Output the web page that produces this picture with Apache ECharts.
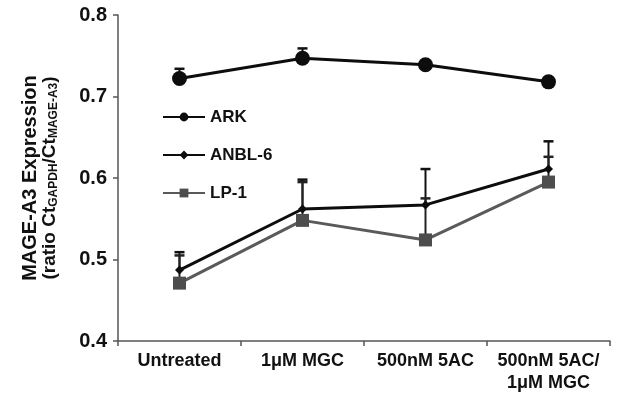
<!DOCTYPE html>
<html>
<head>
<meta charset="utf-8">
<script src="https://cdn.jsdelivr.net/npm/echarts@6/dist/echarts.min.js"></script>
<style>
  html, body { margin: 0; padding: 0; background: #fff; }
  #chart { width: 617px; height: 397px; }
</style>
</head>
<body>
<div id="chart"></div>
<script>
const categories = ['Untreated', '1\u03bcM MGC', '500nM 5AC', '500nM 5AC/\n1\u03bcM MGC'];
const yTicks = [0.4, 0.5, 0.6, 0.7, 0.8];

const arkValues   = [0.722, 0.747, 0.739, 0.718];
const arkErrors   = [0.012, 0.012, 0, 0];
const anblValues  = [0.487, 0.562, 0.567, 0.611];
const anblErrors  = [0.022, 0.036, 0.044, 0.034];
const lp1Values   = [0.471, 0.548, 0.524, 0.595];
const lp1Errors   = [0.034, 0.047, 0.051, 0.031];

const FONT = '"Liberation Sans", Arial, Helvetica, sans-serif';

function errData(values, errors) {
  return values.map((v, i) => [i, v, errors[i]]);
}

function errSeries(name, values, errors, color) {
  return {
    type: 'custom',
    name: name + ' err',
    z: 1,
    silent: true,
    data: errData(values, errors),
    encode: { x: 0, y: 1 },
    renderItem: function (params, api) {
      const x = api.value(0), v = api.value(1), e = api.value(2);
      if (!e) return null;
      const p0 = api.coord([x, v]);
      const p1 = api.coord([x, v + e]);
      const hw = 5;
      return {
        type: 'group',
        children: [
          { type: 'line', shape: { x1: p0[0], y1: p0[1], x2: p1[0], y2: p1[1] },
            style: { stroke: color, lineWidth: 2 } },
          { type: 'line', shape: { x1: p1[0] - hw, y1: p1[1], x2: p1[0] + hw, y2: p1[1] },
            style: { stroke: color, lineWidth: 2.5 } }
        ]
      };
    }
  };
}

const chart = echarts.init(document.getElementById('chart'), null, { renderer: 'canvas' });

chart.setOption({
  animation: false,
  backgroundColor: '#fff',
  textStyle: { fontFamily: FONT },
  grid: { left: 118, right: 7, top: 15, bottom: 56, containLabel: false },
  legend: {
    data: ['ARK', 'ANBL-6', 'LP-1'],
    orient: 'vertical',
    left: 157,
    top: 103,
    itemWidth: 42,
    itemHeight: 11,
    itemGap: 20,
    textStyle: { fontFamily: FONT, fontWeight: 'bold', fontSize: 17, color: '#111', lineHeight: 18 }
  },
  xAxis: {
    type: 'category',
    data: categories,
    boundaryGap: true,
    axisLine: { lineStyle: { color: '#555', width: 1.5 } },
    axisTick: { show: true, length: 5, lineStyle: { color: '#555', width: 1.5 } },
    axisLabel: {
      fontFamily: FONT, fontWeight: 'bold', fontSize: 18, color: '#111',
      margin: 9, lineHeight: 22, interval: 0
    },
    splitLine: { show: false }
  },
  yAxis: {
    type: 'value',
    min: yTicks[0],
    max: yTicks[yTicks.length - 1],
    interval: 0.1,
    name: '{b|MAGE-A3 Expression}\n{m|(ratio Ct}{s|GAPDH}{m|/Ct}{s|MAGE-A3}{m|)}',
    nameLocation: 'middle',
    nameGap: 58,
    nameTextStyle: {
      fontFamily: FONT,
      rich: {
        b: { fontFamily: FONT, fontWeight: 'bold', fontSize: 20, color: '#111', lineHeight: 19 },
        m: { fontFamily: FONT, fontWeight: 'bold', fontSize: 19, color: '#111', lineHeight: 20 },
        s: { fontFamily: FONT, fontWeight: 'bold', fontSize: 12, color: '#111', lineHeight: 20, verticalAlign: 'bottom' }
      }
    },
    axisLine: { show: true, lineStyle: { color: '#555', width: 1.5 } },
    axisTick: { show: true, length: 5, lineStyle: { color: '#555', width: 1.5 } },
    axisLabel: {
      fontFamily: FONT, fontWeight: 'bold', fontSize: 20, color: '#111', margin: 11,
      formatter: v => v.toFixed(1)
    },
    splitLine: { show: false }
  },
  series: [
    errSeries('ARK', arkValues, arkErrors, '#111'),
    errSeries('ANBL-6', anblValues, anblErrors, '#111'),
    errSeries('LP-1', lp1Values, lp1Errors, '#222'),
    {
      name: 'LP-1', type: 'line', z: 3, data: lp1Values,
      symbol: 'rect', symbolSize: 13,
      lineStyle: { color: '#5a5a5a', width: 3 },
      itemStyle: { color: '#4d4d4d' }
    },
    {
      name: 'ANBL-6', type: 'line', z: 4, data: anblValues,
      symbol: 'diamond', symbolSize: 9,
      lineStyle: { color: '#0d0d0d', width: 3 },
      itemStyle: { color: '#0d0d0d' }
    },
    {
      name: 'ARK', type: 'line', z: 5, data: arkValues,
      symbol: 'circle', symbolSize: 15,
      lineStyle: { color: '#0d0d0d', width: 3 },
      itemStyle: { color: '#0d0d0d' }
    }
  ]
});
</script>
</body>
</html>
